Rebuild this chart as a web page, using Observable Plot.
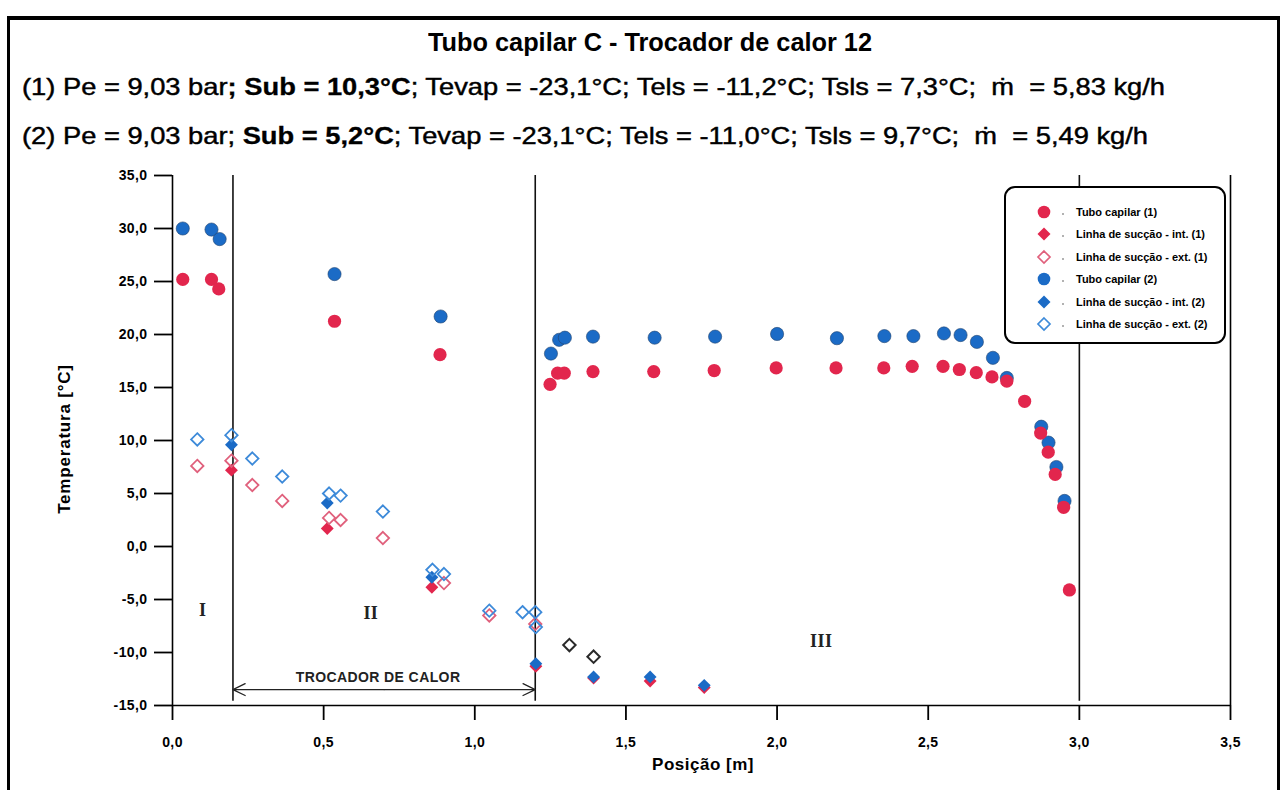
<!DOCTYPE html>
<html>
<head>
<meta charset="utf-8">
<script src="https://cdn.jsdelivr.net/npm/d3@7"></script>
<script src="https://cdn.jsdelivr.net/npm/@observablehq/plot@0.6"></script>
<style>
  html, body { margin: 0; padding: 0; background: #fff; }
  body { width: 1288px; height: 790px; position: relative; overflow: hidden; font-family: "Liberation Sans", Arial, sans-serif; color: #000; }
  .frame { position: absolute; left: 7px; top: 16px; width: 1273px; height: 800px; border-left: 3px solid #000; border-right: 3px solid #000; border-top: 4px solid #000; box-sizing: border-box; }
  .fit { position: absolute; white-space: nowrap; transform-origin: 0 50%; display: inline-block; }
  .title { top: 28px; font-weight: bold; font-size: 25px; }
  .line { left: 22px; font-size: 24px; -webkit-text-stroke: 0.45px #000; }
  .line b { -webkit-text-stroke: 0.3px #000; }
  #chart { position: absolute; left: 0; top: 160px; }
  .ylab { position: absolute; left: 65px; top: 439px; transform: translate(-50%, -50%) rotate(-90deg); font-weight: bold; font-size: 17px; letter-spacing: 0.8px; white-space: nowrap; }
  .xlab { position: absolute; left: 703px; top: 765px; transform: translate(-50%, -50%); font-weight: bold; font-size: 17px; letter-spacing: 0.5px; white-space: nowrap; }
  .legend { position: absolute; left: 1004px; top: 186px; width: 222px; height: 158px; border: 2px solid #000; border-radius: 11px; box-sizing: border-box; background: #fff; }
  .legend .row { position: absolute; left: 0; height: 20px; width: 220px; }
  .legend svg { position: absolute; left: 29px; top: 0; }
  .legend .dotsep { position: absolute; left: 56px; top: 9px; width: 2px; height: 2px; background: #999; border-radius: 1px; }
  .legend .txt { position: absolute; left: 70px; top: 2px; font-weight: bold; font-size: 11px; white-space: nowrap; }
</style>
</head>
<body>
<div class="frame"></div>
<div class="fit title" data-left="428" data-w="444">Tubo capilar C - Trocador de calor 12</div>
<div class="fit line" style="top:73px" data-left="22" data-w="1143">(1) Pe = 9,03 bar<b>; Sub = 10,3°C</b>; Tevap = -23,1°C; Tels = -11,2°C; Tsls = 7,3°C;&nbsp; ṁ&nbsp; = 5,83 kg/h</div>
<div class="fit line" style="top:122px" data-left="22" data-w="1126">(2) Pe = 9,03 bar; <b>Sub = 5,2°C</b>; Tevap = -23,1°C; Tels = -11,0°C; Tsls = 9,7°C;&nbsp; ṁ&nbsp; = 5,49 kg/h</div>
<div id="chart"></div>
<div class="ylab">Temperatura [°C]</div>
<div class="xlab">Posição [m]</div>
<div class="legend" id="legend"></div>
<script>
// ---- Data (position [m], temperature [°C]) ----
const tuboCapilar1 = [
  [0.034,25.2],[0.129,25.2],[0.153,24.3],[0.536,21.25],[0.885,18.1],[1.249,15.3],[1.274,16.35],[1.296,16.35],
  [1.391,16.5],[1.592,16.5],[1.792,16.6],[1.997,16.85],[2.195,16.85],[2.353,16.85],[2.447,17.0],[2.549,17.0],
  [2.603,16.7],[2.659,16.4],[2.711,16.0],[2.76,15.6],[2.819,13.7],[2.872,10.7],[2.897,8.9],[2.92,6.8],[2.948,3.7],[2.967,-4.1]
];
const tuboCapilar2 = [
  [0.034,30.0],[0.129,29.9],[0.156,29.0],[0.536,25.7],[0.887,21.7],[1.252,18.2],[1.279,19.5],[1.298,19.7],
  [1.391,19.8],[1.595,19.7],[1.795,19.8],[2.0,20.05],[2.198,19.65],[2.355,19.85],[2.451,19.85],[2.552,20.1],
  [2.607,19.95],[2.661,19.3],[2.714,17.8],[2.76,15.9],[2.874,11.3],[2.898,9.8],[2.924,7.5],[2.951,4.3]
];
const succaoInt1 = [[0.195,7.2],[0.512,1.7],[0.858,-3.85],[1.202,-11.3],[1.393,-12.4],[1.58,-12.7],[1.759,-13.3]];
const succaoInt2 = [[0.195,9.6],[0.512,4.1],[0.858,-2.9],[1.202,-11.05],[1.393,-12.3],[1.58,-12.3],[1.759,-13.1]];
const succaoExt1 = [[0.082,7.6],[0.195,8.1],[0.264,5.8],[0.363,4.3],[0.518,2.7],[0.556,2.5],[0.696,0.8],[0.898,-3.45],[1.048,-6.5],[1.2,-7.3]];
const succaoExt2 = [[0.082,10.1],[0.195,10.5],[0.264,8.3],[0.363,6.6],[0.518,5.0],[0.556,4.8],[0.696,3.3],[0.86,-2.2],[0.898,-2.6],[1.048,-6.05],[1.158,-6.2],[1.2,-6.2],[1.202,-7.6]];
const succaoExtCoincident = [[1.313,-9.3],[1.393,-10.4]];

const xTicks = [0, 0.5, 1.0, 1.5, 2.0, 2.5, 3.0, 3.5];
const yTicks = [-15, -10, -5, 0, 5, 10, 15, 20, 25, 30, 35];
const regionBounds = [0.2, 1.2, 3.0];
const regionLabels = ["I", "II", "III"];
const regionLabelX = [0.1, 0.656, 2.146];
const regionLabelY = [-6.0, -6.3, -8.9];
const exchangerLabel = "TROCADOR DE CALOR";
const exchangerSpan = [0.2, 1.2];
const exchangerArrowY = -13.5;
const exchangerLabelY = -12.35;

const red = "#e2264d", blue = "#1b6bc6", redOpen = "#e0607c", blueOpen = "#3d8ad9";
const legendItems = [
  {label: "Tubo capilar (1)", symbol: "circle", color: red, fill: true},
  {label: "Linha de sucção - int. (1)", symbol: "diamond", color: red, fill: true},
  {label: "Linha de sucção - ext. (1)", symbol: "diamond", color: redOpen, fill: false},
  {label: "Tubo capilar (2)", symbol: "circle", color: blue, fill: true},
  {label: "Linha de sucção - int. (2)", symbol: "diamond", color: blue, fill: true},
  {label: "Linha de sucção - ext. (2)", symbol: "diamond", color: blueOpen, fill: false}
];

const fmt = d => d3.format(".1f")(d).replace(".", ",").replace("\u2212", "-");
const mid = (exchangerSpan[0] + exchangerSpan[1]) / 2;
const arrows = exchangerSpan.map(e => ({x1: mid, x2: e, y: exchangerArrowY}));
const xDomain = [0, 3.5], yDomain = [-15, 35];

const chart = Plot.plot({
  width: 1288, height: 630,
  marginTop: 15, marginBottom: 85, marginLeft: 172, marginRight: 58,
  style: {fontFamily: "'Liberation Sans', Arial, sans-serif", fontSize: "14px", fontWeight: "bold", letterSpacing: "0.4px", color: "#000", background: "transparent", overflow: "visible"},
  x: {domain: xDomain, ticks: xTicks, tickFormat: fmt, tickSize: 15, tickPadding: 17, label: null},
  y: {domain: yDomain, ticks: yTicks, tickFormat: fmt, tickSize: 18, tickPadding: 7, label: null},
  marks: [
    Plot.ruleX(xDomain, {y1: yDomain[0], y2: yDomain[1], stroke: "#000", strokeWidth: 1.6}),
    Plot.ruleY([yDomain[0]], {x1: xDomain[0], x2: xDomain[1], stroke: "#000", strokeWidth: 1.6}),
    Plot.ruleX(regionBounds, {y1: -14.6, y2: 35, stroke: "#111", strokeWidth: 1.6}),
    Plot.text(regionLabels, {x: (d, i) => regionLabelX[i], y: (d, i) => regionLabelY[i], text: d => d, fontFamily: "'Liberation Serif', 'Times New Roman', serif", fontSize: 18, fontWeight: "bold", fill: "#222"}),
    Plot.arrow(arrows, {x1: "x1", x2: "x2", y1: "y", y2: "y", stroke: "#222", strokeWidth: 1.2, headLength: 17, headAngle: 52}),
    Plot.text([exchangerLabel], {x: mid - 0.02, y: exchangerLabelY, text: d => d, fontSize: 14, fontWeight: "bold", fill: "#222", style: "letter-spacing:0.8px"}),
    Plot.dot(tuboCapilar2, {x: d => d[0], y: d => d[1], r: 6.6, fill: blue, stroke: "#24446e", strokeWidth: 0.6}),
    Plot.dot(tuboCapilar1, {x: d => d[0], y: d => d[1], r: 6.6, fill: red}),
    Plot.dot(succaoInt1, {x: d => d[0], y: d => d[1], symbol: "diamond2", r: 5.8, fill: red}),
    Plot.dot(succaoInt2, {x: d => d[0], y: d => d[1], symbol: "diamond2", r: 5.8, fill: blue}),
    Plot.dot(succaoExt1, {x: d => d[0], y: d => d[1], symbol: "diamond2", r: 5.6, fill: "none", stroke: redOpen, strokeWidth: 1.8}),
    Plot.dot(succaoExt2, {x: d => d[0], y: d => d[1], symbol: "diamond2", r: 5.6, fill: "none", stroke: blueOpen, strokeWidth: 1.8}),
    Plot.dot(succaoExtCoincident, {x: d => d[0], y: d => d[1], symbol: "diamond2", r: 5.6, fill: "none", stroke: "#2a2a2a", strokeWidth: 2})
  ]
});
document.getElementById("chart").appendChild(chart);
chart.querySelectorAll("g[aria-label$='tick'] path, g[aria-label$='tick'] line").forEach(p => p.setAttribute("stroke-width", 1.8));

// Fit header text to the reference's extent
document.querySelectorAll(".fit").forEach(el => {
  const w = el.getBoundingClientRect().width;
  const target = +el.dataset.w;
  el.style.left = el.dataset.left + "px";
  el.style.transform = `scaleX(${target / w})`;
});

// Legend
const legend = document.getElementById("legend");
legendItems.forEach((it, i) => {
  const row = document.createElement("div");
  row.className = "row";
  row.style.top = (15.5 + i * 22.5) + "px";
  let shape;
  if (it.symbol === "circle") shape = `<circle cx="9" cy="9" r="6.3" fill="${it.color}"/>`;
  else if (it.fill) shape = `<path d="M9,2.5L15.5,9L9,15.5L2.5,9Z" fill="${it.color}"/>`;
  else shape = `<path d="M9,3L15,9L9,15L3,9Z" fill="none" stroke="${it.color}" stroke-width="1.7"/>`;
  row.innerHTML = `<svg width="18" height="18" style="top:-1px">${shape}</svg><div class="dotsep"></div><div class="txt">${it.label}</div>`;
  legend.appendChild(row);
});
</script>
</body>
</html>
